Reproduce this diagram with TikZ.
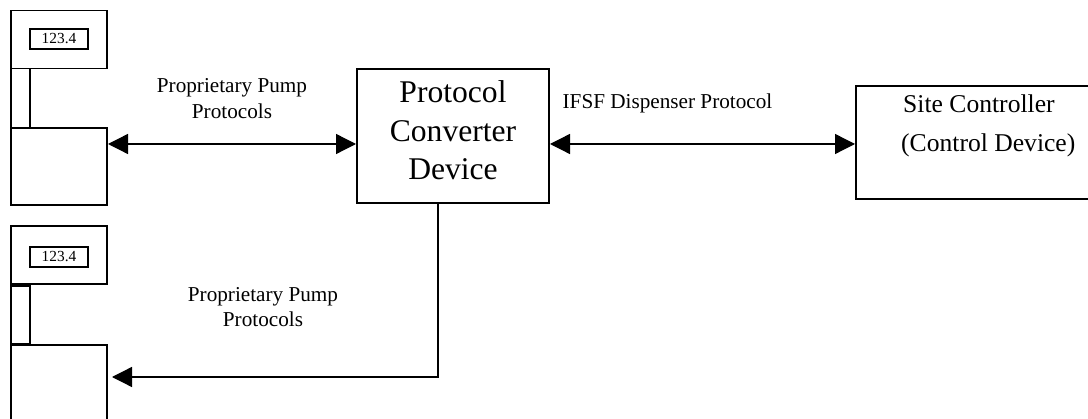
\documentclass[tikz,border=0pt]{standalone}
\usepackage{fontspec}
\setmainfont{Liberation Serif}
\usetikzlibrary{arrows.meta}
\tikzset{
  box/.style={draw=black,line width=1.6pt,fill=white,inner sep=0pt,outer sep=0pt,anchor=north west},
  readout/.style={box,minimum width=58pt,minimum height=20pt,font=\fontsize{15.4}{18}\selectfont},
  lbl/.style={inner sep=0pt,text=black,anchor=base},
  small/.style={lbl,font=\fontsize{21.2}{25}\selectfont},
  big/.style={lbl,font=\fontsize{31.6}{38}\selectfont},
  site/.style={lbl,anchor=base west,font=\fontsize{25.6}{30}\selectfont},
  arr/.style={line width=1.3pt,{Triangle[length=20pt,width=20pt]}-{Triangle[length=20pt,width=20pt]},shorten <=1pt,shorten >=1pt},
  arrone/.style={line width=1.3pt,-{Triangle[length=20pt,width=20pt]}}
}
\begin{document}
\begin{tikzpicture}[x=1pt,y=-1pt]
\useasboundingbox (0,0) rectangle (1088,419);
% upper pump
\node[box,minimum width=96pt,minimum height=58pt] (ptopa) at (11,10.5) {};
\node[readout] (da) at (30,29) {123.4};
\node[box,minimum width=19pt,minimum height=59pt] (na) at (11,68.5) {};
\node[box,minimum width=96pt,minimum height=77pt] (pa) at (11,128) {};
% lower pump
\node[box,minimum width=96pt,minimum height=58pt] (ptopb) at (11,226) {};
\node[readout] (db) at (30,247) {123.4};
\node[box,minimum width=19pt,minimum height=58pt] (nb) at (11,286) {};
\node[box,minimum width=96pt,minimum height=85pt] (pb) at (11,345) {};
% converter
\node[box,minimum width=192pt,minimum height=134pt] (c) at (357,69) {};
\node[big] at (453,103) {Protocol};
\node[big] at (453,142) {Converter};
\node[big] at (453,180) {Device};
% site controller
\node[box,minimum width=240pt,minimum height=113pt] (s) at (856,86) {};
\node[site] at (903,113) {Site Controller};
\node[site] at (901,152) {(Control Device)};
% labels
\node[small] at (232,93) {Proprietary Pump};
\node[small] at (232,119) {Protocols};
\node[small] at (263,302) {Proprietary Pump};
\node[small] at (263,327) {Protocols};
\node[small] at (667.5,109) {IFSF Dispenser Protocol};
% connectors
\draw[arr] (pa.east |- 0,144) -- (c.west |- 0,144);
\draw[arr] (c.east |- 0,144) -- (s.west |- 0,144);
\coordinate (bend) at (438,377);
\coordinate (tip) at (112,377);
\draw[line width=1.3pt,line cap=rect] (c.south -| bend) -- (bend);
\draw[arrone] (bend) -- (tip);
\end{tikzpicture}
\end{document}
